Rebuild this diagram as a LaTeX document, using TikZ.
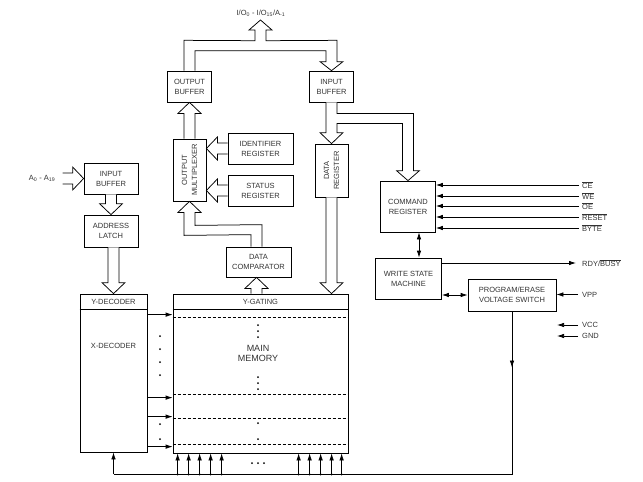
\documentclass[tikz,border=0pt]{standalone}
\usepackage{fontspec}
\setmainfont{Liberation Sans}
\usetikzlibrary{calc,arrows.meta}
\newcommand\mybusv[3]{\draw[bus] ($(#2|-#1)+(-5.5,0)$) -- ($(#2)+(-5.5,#3*11)$) -- ($(#2)+(-11.5,#3*11)$) -- (#2) -- ($(#2)+(11.5,#3*11)$) -- ($(#2)+(5.5,#3*11)$) -- ($(#2|-#1)+(5.5,0)$);}
\newcommand\mybush[3]{\draw[bus] ($(#2-|#1)+(0,5.5)$) -- ($(#2)+(#3*11,5.5)$) -- ($(#2)+(#3*11,11.5)$) -- (#2) -- ($(#2)+(#3*11,-11.5)$) -- ($(#2)+(#3*11,-5.5)$) -- ($(#2-|#1)+(0,-5.5)$);}
\newcommand\ovl[1]{$\overline{\mbox{#1}}$}
\tikzset{
  txt/.style={font=\fontsize{7.5}{10}\selectfont, text=black!80, align=center, inner sep=1pt},
  blk/.style={txt, draw=black, line width=0.75pt, fill=white},
  bus/.style={draw=black, line width=0.75pt, fill=white, line join=miter},
  sarr/.style={draw=black, line width=0.75pt, -{Latex[length=7pt,width=4.5pt]}},
  darr/.style={draw=black, line width=0.75pt, {Latex[length=7pt,width=4.5pt]}-{Latex[length=7pt,width=4.5pt]}},
  sline/.style={draw=black, line width=0.75pt},
  lbl/.style={txt, anchor=west},
  jdot/.style={circle, fill=black, inner sep=0pt, minimum size=2.4pt},
  mdot/.style={circle, fill=black, inner sep=0pt, minimum size=2pt},
  dline/.style={draw=black, line width=0.75pt, dash pattern=on 3pt off 2pt}
}
\begin{document}
\begin{tikzpicture}[x=1pt,y=1pt]
\useasboundingbox (0,0) rectangle (643,-482);
% blocks
\node[blk, minimum width=44pt, minimum height=31pt] (obuf) at (189.5,-86.5) {OUTPUT\\BUFFER};
\node[blk, minimum width=44pt, minimum height=31pt] (ibuf) at (331.5,-86.5) {INPUT\\BUFFER};
\node[blk, minimum width=33pt, minimum height=62pt] (omux) at (189.5,-170) {};
\node[txt, rotate=90] (omuxt) at (omux.center) {OUTPUT\\MULTIPLEXER};
\node[blk, minimum width=65pt, minimum height=31pt] (idreg) at (260.5,-148.5) {IDENTIFIER\\REGISTER};
\node[blk, minimum width=65pt, minimum height=31pt] (streg) at (260.5,-190.5) {STATUS\\REGISTER};
\node[blk, minimum width=33pt, minimum height=53pt] (dreg) at (331.5,-170.5) {};
\node[txt, rotate=90] (dregt) at (dreg.center) {DATA\\REGISTER};
\node[blk, minimum width=65pt, minimum height=30pt] (dcomp) at (258.5,-262) {DATA\\COMPARATOR};
\node[blk, minimum width=54pt, minimum height=31pt] (abuf) at (111,-178.5) {INPUT\\BUFFER};
\node[blk, minimum width=54pt, minimum height=32pt] (alatch) at (111,-231) {ADDRESS\\LATCH};
\node[blk, minimum width=67pt, minimum height=158pt] (xdec) at (113.5,-373) {};
\node[blk, minimum width=175pt, minimum height=159pt] (mem) at (260.5,-373.5) {};
\node[blk, minimum width=55pt, minimum height=51pt] (cmd) at (408,-206.5) {COMMAND\\REGISTER};
\node[blk, minimum width=66pt, minimum height=41pt] (wsm) at (408.5,-278.5) {WRITE STATE\\MACHINE};
\node[blk, minimum width=88pt, minimum height=32pt] (pes) at (512,-295) {PROGRAM/ERASE\\VOLTAGE SWITCH};
% decoder internals
\draw[sline] ([yshift=-16pt]xdec.north west) -- ([yshift=-16pt]xdec.north east);
\node[txt] (ydl) at ([yshift=-8pt]xdec.north) {Y-DECODER};
\node[txt] (xdl) at ([yshift=-52pt]xdec.north) {X-DECODER};
% memory internals
\draw[sline] ([yshift=-16pt]mem.north west) -- ([yshift=-16pt]mem.north east);
\node[txt] (ygl) at ([yshift=-8pt]mem.north) {Y-GATING};
\node[txt, font=\fontsize{9}{9.5}\selectfont] (mml) at (258,-353.5) {MAIN\\MEMORY};
\foreach \d in {24,101,125,151} \draw[dline] ([yshift=-\d pt]mem.north west) -- ([yshift=-\d pt]mem.north east);
\foreach \y in {325,331,337,377,383,389,423,439} \node[mdot] at (258,-\y) {};
\foreach \y in {336,349,362,375,424,439} \node[mdot] at (160,-\y) {};
% decoder to memory arrows
\foreach \d in {21,104,123,153} \draw[sarr] ([yshift=-\d pt]xdec.north east) -- ([yshift=-\d pt]mem.north west);
% labels
\node[txt] (io) at (261,-13) {I/O\textsubscript{0} - I/O\textsubscript{15}/A\textsubscript{-1}};
\coordinate (iotip) at (260.5,-20);
\node[txt] (al) at (42,-178.5) {A\textsubscript{0} - A\textsubscript{19}};
\coordinate (ain) at ([xshift=-21pt]abuf.west);
% top I/O bus
\draw[bus] ($(obuf.north)+(-5.5,0)$) -- ($(obuf.north)+(-5.5,30.3)$) -- ($(iotip)+(-5.5,-20.7)$) -- ($(iotip)+(-5.5,-10)$) -- ($(iotip)+(-11.5,-10)$) -- (iotip) -- ($(iotip)+(11.5,-10)$) -- ($(iotip)+(5.5,-10)$) -- ($(iotip)+(5.5,-20.7)$) -- ($(ibuf.north)+(5.5,30.3)$) -- ($(ibuf.north)+(5.5,9)$) -- ($(ibuf.north)+(11.5,9)$) -- (ibuf.north) -- ($(ibuf.north)+(-11.5,9)$) -- ($(ibuf.north)+(-5.5,9)$) -- ($(ibuf.north)+(-5.5,20)$) -- ($(obuf.north)+(5.5,20)$) -- ($(obuf.north)+(5.5,0)$);
% input buffer -> data register and command register
\draw[bus] ($(ibuf.south)+(-5.5,0)$) -- ($(dreg.north)+(-5.5,11)$) -- ($(dreg.north)+(-11.5,11)$) -- (dreg.north) -- ($(dreg.north)+(11.5,11)$) -- ($(dreg.north)+(5.5,11)$) -- ($(ibuf.south)+(5.5,-21)$) -| ($(cmd.north)+(-5.5,10)$) -- ($(cmd.north)+(-11.5,10)$) -- (cmd.north) -- ($(cmd.north)+(11.5,10)$) -- ($(cmd.north)+(5.5,10)$) |- ($(ibuf.south)+(5.5,-11)$) -- ($(ibuf.south)+(5.5,0)$);
% data register -> memory
\coordinate (dmtip) at (dreg.south|-mem.north);
\mybusv{dreg.south}{dmtip}{1}
% address path
\mybush{ain}{abuf.west}{-1}
\mybusv{abuf.south}{alatch.north}{1}
\mybusv{alatch.south}{xdec.north}{1}
% output path
\mybusv{omux.north}{obuf.south}{-1}
\coordinate (idtip) at (omux.east|-idreg.west);
\coordinate (sttip) at (omux.east|-streg.west);
\mybush{idreg.west}{idtip}{1}
\mybush{streg.west}{sttip}{1}
\coordinate (dctip) at ([xshift=-2pt]dcomp.south);
\mybusv{mem.north}{dctip}{-1}
\draw[bus] ($(dcomp.north)+(-7.5,0)$) -- ($(dcomp.north)+(-7.5,12)$) -- ($(omux.south)+(-5.5,-34)$) -- ($(omux.south)+(-5.5,-11)$) -- ($(omux.south)+(-11.5,-11)$) -- (omux.south) -- ($(omux.south)+(11.5,-11)$) -- ($(omux.south)+(5.5,-11)$) -- ($(omux.south)+(5.5,-24)$) -- ($(dcomp.north)+(3.5,22)$) -- ($(dcomp.north)+(3.5,0)$);
% control inputs
\node[lbl] (lce) at (581,-185) {\ovl{CE}};
\node[lbl] (lwe) at (581,-196) {\ovl{WE}};
\node[lbl] (loe) at (581,-206) {\ovl{OE}};
\node[lbl] (lrs) at (581,-217) {\ovl{RESET}};
\node[lbl] (lby) at (581,-228) {\ovl{BYTE}};
\foreach \n in {lce,lwe,loe,lrs,lby} \draw[sarr] ([xshift=-2pt]\n.west) -- (\n.west-|cmd.east);
\node[lbl] (lrdy) at (581,-263) {RDY/\ovl{BUSY}};
\draw[sarr] (lrdy.west-|wsm.east) -- ([xshift=-5pt]lrdy.west);
\node[lbl] (lvpp) at (581,-294.5) {VPP};
\draw[sarr] ([xshift=-3pt]lvpp.west) -- (lvpp.west-|pes.east);
\node[lbl] (lvcc) at (581,-325) {VCC};
\node[lbl] (lgnd) at (581,-336) {GND};
\draw[sarr] ([xshift=-3pt]lvcc.west) -- ++(-21,0);
\draw[sarr] ([xshift=-3pt]lgnd.west) -- ++(-21,0);
% command <-> wsm <-> pes
\draw[darr] ([xshift=11pt]cmd.south) -- ([xshift=11pt]cmd.south|-wsm.north);
\draw[darr] (pes.west-|wsm.east) -- (pes.west);
% bottom bus
\coordinate (busL) at ([yshift=-22pt]xdec.south);
\coordinate (busR) at (pes.south|-busL);
\draw[sline] (pes.south) -- (busR) -- (busL);
\draw[sarr] (pes.south) -- ($(pes.south)!0.345!(busR)$);
\draw[sarr] (busL) -- (xdec.south);
\foreach \d in {5,16,27,38,49,126,137,148,159,169} {
  \draw[sarr] ([shift={(\d,-21)}]mem.south west) -- ([xshift=\d pt]mem.south west);
  \node[jdot] at ([shift={(\d,-21)}]mem.south west) {};
}
\foreach \x in {252,258,264} \node[mdot] at (\x,-463) {};
\end{tikzpicture}
\end{document}
